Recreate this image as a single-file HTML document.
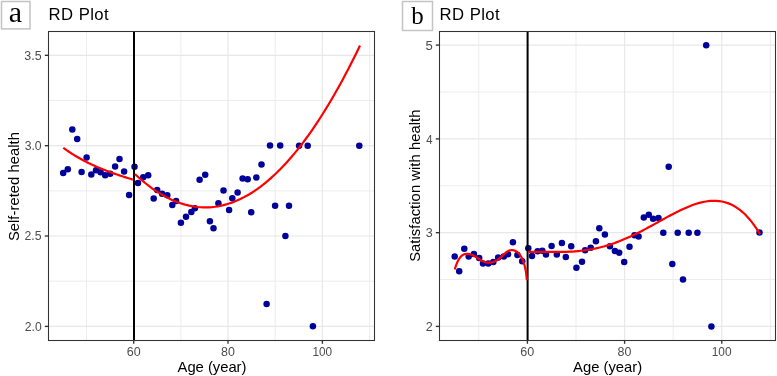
<!DOCTYPE html>
<html><head><meta charset="utf-8"><title>RD Plot</title>
<style>html,body{margin:0;padding:0;background:#fff;width:777px;height:376px;overflow:hidden}
svg{display:block;will-change:transform;font-family:"Liberation Sans",sans-serif}</style></head>
<body><svg width="777" height="376" viewBox="0 0 777 376"><rect width="777" height="376" fill="#fff"/><line x1="48.5" x2="374.5" y1="100.5" y2="100.5" stroke="#ebebeb" stroke-width="0.9"/><line x1="48.5" x2="374.5" y1="190.9" y2="190.9" stroke="#ebebeb" stroke-width="0.9"/><line x1="48.5" x2="374.5" y1="281.2" y2="281.2" stroke="#ebebeb" stroke-width="0.9"/><line y1="31.5" y2="340.5" x1="86.5" x2="86.5" stroke="#ebebeb" stroke-width="0.9"/><line y1="31.5" y2="340.5" x1="180.9" x2="180.9" stroke="#ebebeb" stroke-width="0.9"/><line y1="31.5" y2="340.5" x1="275.2" x2="275.2" stroke="#ebebeb" stroke-width="0.9"/><line y1="31.5" y2="340.5" x1="369.6" x2="369.6" stroke="#ebebeb" stroke-width="0.9"/><line x1="48.5" x2="374.5" y1="55.3" y2="55.3" stroke="#e8e8e8" stroke-width="1.2"/><line x1="48.5" x2="374.5" y1="145.7" y2="145.7" stroke="#e8e8e8" stroke-width="1.2"/><line x1="48.5" x2="374.5" y1="236.0" y2="236.0" stroke="#e8e8e8" stroke-width="1.2"/><line x1="48.5" x2="374.5" y1="326.4" y2="326.4" stroke="#e8e8e8" stroke-width="1.2"/><line y1="31.5" y2="340.5" x1="133.7" x2="133.7" stroke="#e8e8e8" stroke-width="1.2"/><line y1="31.5" y2="340.5" x1="228.0" x2="228.0" stroke="#e8e8e8" stroke-width="1.2"/><line y1="31.5" y2="340.5" x1="322.4" x2="322.4" stroke="#e8e8e8" stroke-width="1.2"/><g fill="#00009a"><circle cx="63.2" cy="173.1" r="3.25"/><circle cx="67.8" cy="169.2" r="3.25"/><circle cx="72.3" cy="129.4" r="3.25"/><circle cx="77.2" cy="138.9" r="3.25"/><circle cx="81.6" cy="172.1" r="3.25"/><circle cx="86.6" cy="157.6" r="3.25"/><circle cx="91.3" cy="174.6" r="3.25"/><circle cx="96.0" cy="170.3" r="3.25"/><circle cx="100.6" cy="172.2" r="3.25"/><circle cx="105.2" cy="175.2" r="3.25"/><circle cx="110.2" cy="173.7" r="3.25"/><circle cx="115.1" cy="166.6" r="3.25"/><circle cx="119.5" cy="159.0" r="3.25"/><circle cx="124.1" cy="171.6" r="3.25"/><circle cx="129.1" cy="195.0" r="3.25"/><circle cx="134.5" cy="166.8" r="3.25"/><circle cx="138.0" cy="183.0" r="3.25"/><circle cx="143.2" cy="177.3" r="3.25"/><circle cx="148.2" cy="175.3" r="3.25"/><circle cx="153.7" cy="198.5" r="3.25"/><circle cx="157.2" cy="190.1" r="3.25"/><circle cx="162.1" cy="193.7" r="3.25"/><circle cx="167.3" cy="195.3" r="3.25"/><circle cx="172.3" cy="205.0" r="3.25"/><circle cx="176.1" cy="201.0" r="3.25"/><circle cx="180.9" cy="222.8" r="3.25"/><circle cx="186.0" cy="216.7" r="3.25"/><circle cx="191.3" cy="212.0" r="3.25"/><circle cx="194.9" cy="208.2" r="3.25"/><circle cx="199.6" cy="179.8" r="3.25"/><circle cx="205.2" cy="174.8" r="3.25"/><circle cx="209.9" cy="221.3" r="3.25"/><circle cx="213.5" cy="228.3" r="3.25"/><circle cx="218.4" cy="203.2" r="3.25"/><circle cx="223.5" cy="190.6" r="3.25"/><circle cx="229.1" cy="209.9" r="3.25"/><circle cx="232.3" cy="198.3" r="3.25"/><circle cx="237.6" cy="192.4" r="3.25"/><circle cx="242.6" cy="178.6" r="3.25"/><circle cx="247.7" cy="179.2" r="3.25"/><circle cx="251.2" cy="212.2" r="3.25"/><circle cx="256.3" cy="177.4" r="3.25"/><circle cx="261.5" cy="164.5" r="3.25"/><circle cx="266.6" cy="303.9" r="3.25"/><circle cx="270.0" cy="145.6" r="3.25"/><circle cx="275.1" cy="205.8" r="3.25"/><circle cx="280.2" cy="145.6" r="3.25"/><circle cx="285.4" cy="236.0" r="3.25"/><circle cx="289.0" cy="205.7" r="3.25"/><circle cx="299.1" cy="145.7" r="3.25"/><circle cx="307.7" cy="145.7" r="3.25"/><circle cx="312.9" cy="326.3" r="3.25"/><circle cx="359.3" cy="145.7" r="3.25"/></g><line x1="134.0" x2="134.0" y1="31.5" y2="340.5" stroke="#000" stroke-width="2"/><path d="M63.30,147.82 L64.18,148.46 L65.06,149.08 L65.94,149.70 L66.82,150.32 L67.70,150.92 L68.58,151.51 L69.46,152.10 L70.34,152.68 L71.22,153.25 L72.10,153.81 L72.98,154.37 L73.86,154.91 L74.74,155.45 L75.62,155.99 L76.50,156.51 L77.38,157.03 L78.26,157.54 L79.14,158.04 L80.02,158.54 L80.89,159.03 L81.77,159.51 L82.65,159.98 L83.53,160.45 L84.41,160.92 L85.29,161.37 L86.17,161.82 L87.05,162.27 L87.93,162.71 L88.81,163.14 L89.69,163.57 L90.57,163.99 L91.45,164.40 L92.33,164.81 L93.21,165.22 L94.09,165.62 L94.97,166.01 L95.85,166.40 L96.73,166.78 L97.61,167.16 L98.49,167.54 L99.37,167.91 L100.25,168.27 L101.13,168.63 L102.01,168.99 L102.89,169.34 L103.77,169.69 L104.65,170.04 L105.53,170.38 L106.41,170.72 L107.29,171.05 L108.17,171.38 L109.05,171.71 L109.93,172.03 L110.81,172.35 L111.69,172.67 L112.57,172.98 L113.45,173.29 L114.33,173.60 L115.21,173.90 L116.08,174.21 L116.96,174.51 L117.84,174.80 L118.72,175.10 L119.60,175.39 L120.48,175.69 L121.36,175.97 L122.24,176.26 L123.12,176.55 L124.00,176.83 L124.88,177.12 L125.76,177.40 L126.64,177.68 L127.52,177.96 L128.40,178.23 L129.28,178.51 L130.16,178.79 L131.04,179.06 L131.92,179.34 L132.80,179.61" fill="none" stroke="#ff0000" stroke-width="2.2"/><path d="M135.00,174.09 L137.85,176.73 L140.70,179.26 L143.54,181.68 L146.39,183.99 L149.24,186.20 L152.09,188.29 L154.94,190.28 L157.78,192.16 L160.63,193.93 L163.48,195.59 L166.33,197.14 L169.18,198.58 L172.03,199.92 L174.87,201.14 L177.72,202.26 L180.57,203.26 L183.42,204.16 L186.27,204.94 L189.11,205.62 L191.96,206.19 L194.81,206.65 L197.66,206.99 L200.51,207.23 L203.35,207.36 L206.20,207.38 L209.05,207.29 L211.90,207.09 L214.75,206.77 L217.59,206.35 L220.44,205.82 L223.29,205.18 L226.14,204.43 L228.99,203.56 L231.84,202.59 L234.68,201.51 L237.53,200.32 L240.38,199.02 L243.23,197.60 L246.08,196.08 L248.92,194.45 L251.77,192.71 L254.62,190.85 L257.47,188.89 L260.32,186.82 L263.16,184.64 L266.01,182.34 L268.86,179.94 L271.71,177.43 L274.56,174.81 L277.41,172.08 L280.25,169.24 L283.10,166.29 L285.95,163.23 L288.80,160.06 L291.65,156.78 L294.49,153.39 L297.34,149.90 L300.19,146.29 L303.04,142.58 L305.89,138.75 L308.73,134.82 L311.58,130.78 L314.43,126.63 L317.28,122.37 L320.13,118.00 L322.97,113.53 L325.82,108.95 L328.67,104.26 L331.52,99.46 L334.37,94.55 L337.22,89.54 L340.06,84.42 L342.91,79.19 L345.76,73.85 L348.61,68.41 L351.46,62.86 L354.30,57.20 L357.15,51.44 L360.00,45.57" fill="none" stroke="#ff0000" stroke-width="2.2"/><rect x="48.5" y="31.5" width="326.0" height="309.0" fill="none" stroke="#333" stroke-width="1.07"/><line x1="44.8" x2="48.5" y1="55.3" y2="55.3" stroke="#333" stroke-width="1.35"/><line x1="44.8" x2="48.5" y1="145.7" y2="145.7" stroke="#333" stroke-width="1.35"/><line x1="44.8" x2="48.5" y1="236.0" y2="236.0" stroke="#333" stroke-width="1.35"/><line x1="44.8" x2="48.5" y1="326.4" y2="326.4" stroke="#333" stroke-width="1.35"/><line x1="133.7" x2="133.7" y1="340.5" y2="343.8" stroke="#333" stroke-width="1.35"/><line x1="228.0" x2="228.0" y1="340.5" y2="343.8" stroke="#333" stroke-width="1.35"/><line x1="322.4" x2="322.4" y1="340.5" y2="343.8" stroke="#333" stroke-width="1.35"/><rect x="1.5" y="1.5" width="28.5" height="27.4" fill="#fff" stroke="#c4c4c4" stroke-width="1.5"/><line x1="439.5" x2="775.5" y1="92.0" y2="92.0" stroke="#ebebeb" stroke-width="0.9"/><line x1="439.5" x2="775.5" y1="185.8" y2="185.8" stroke="#ebebeb" stroke-width="0.9"/><line x1="439.5" x2="775.5" y1="279.5" y2="279.5" stroke="#ebebeb" stroke-width="0.9"/><line y1="31.5" y2="340.5" x1="478.8" x2="478.8" stroke="#ebebeb" stroke-width="0.9"/><line y1="31.5" y2="340.5" x1="576.0" x2="576.0" stroke="#ebebeb" stroke-width="0.9"/><line y1="31.5" y2="340.5" x1="673.2" x2="673.2" stroke="#ebebeb" stroke-width="0.9"/><line y1="31.5" y2="340.5" x1="770.4" x2="770.4" stroke="#ebebeb" stroke-width="0.9"/><line x1="439.5" x2="775.5" y1="45.1" y2="45.1" stroke="#e8e8e8" stroke-width="1.2"/><line x1="439.5" x2="775.5" y1="138.9" y2="138.9" stroke="#e8e8e8" stroke-width="1.2"/><line x1="439.5" x2="775.5" y1="232.7" y2="232.7" stroke="#e8e8e8" stroke-width="1.2"/><line x1="439.5" x2="775.5" y1="326.4" y2="326.4" stroke="#e8e8e8" stroke-width="1.2"/><line y1="31.5" y2="340.5" x1="527.4" x2="527.4" stroke="#e8e8e8" stroke-width="1.2"/><line y1="31.5" y2="340.5" x1="624.6" x2="624.6" stroke="#e8e8e8" stroke-width="1.2"/><line y1="31.5" y2="340.5" x1="721.8" x2="721.8" stroke="#e8e8e8" stroke-width="1.2"/><g fill="#00009a"><circle cx="454.7" cy="256.5" r="3.25"/><circle cx="459.2" cy="271.3" r="3.25"/><circle cx="464.3" cy="248.7" r="3.25"/><circle cx="468.7" cy="256.5" r="3.25"/><circle cx="473.9" cy="254.0" r="3.25"/><circle cx="479.2" cy="258.0" r="3.25"/><circle cx="483.0" cy="263.5" r="3.25"/><circle cx="488.3" cy="263.5" r="3.25"/><circle cx="493.3" cy="262.1" r="3.25"/><circle cx="498.2" cy="257.4" r="3.25"/><circle cx="503.8" cy="256.4" r="3.25"/><circle cx="508.0" cy="254.3" r="3.25"/><circle cx="512.9" cy="242.2" r="3.25"/><circle cx="517.4" cy="255.0" r="3.25"/><circle cx="522.2" cy="261.3" r="3.25"/><circle cx="528.3" cy="248.3" r="3.25"/><circle cx="532.0" cy="256.0" r="3.25"/><circle cx="537.6" cy="251.3" r="3.25"/><circle cx="542.3" cy="250.7" r="3.25"/><circle cx="546.0" cy="254.5" r="3.25"/><circle cx="551.6" cy="246.1" r="3.25"/><circle cx="556.8" cy="254.6" r="3.25"/><circle cx="561.9" cy="242.9" r="3.25"/><circle cx="565.8" cy="256.9" r="3.25"/><circle cx="571.2" cy="246.3" r="3.25"/><circle cx="576.4" cy="267.7" r="3.25"/><circle cx="582.0" cy="261.7" r="3.25"/><circle cx="585.1" cy="250.2" r="3.25"/><circle cx="590.7" cy="247.8" r="3.25"/><circle cx="595.9" cy="241.3" r="3.25"/><circle cx="599.3" cy="228.2" r="3.25"/><circle cx="604.9" cy="234.6" r="3.25"/><circle cx="609.9" cy="246.3" r="3.25"/><circle cx="614.9" cy="250.9" r="3.25"/><circle cx="619.2" cy="252.8" r="3.25"/><circle cx="624.2" cy="262.1" r="3.25"/><circle cx="629.5" cy="246.7" r="3.25"/><circle cx="634.5" cy="235.3" r="3.25"/><circle cx="638.6" cy="236.5" r="3.25"/><circle cx="643.8" cy="217.5" r="3.25"/><circle cx="648.8" cy="214.7" r="3.25"/><circle cx="653.1" cy="218.8" r="3.25"/><circle cx="658.5" cy="217.9" r="3.25"/><circle cx="663.3" cy="232.8" r="3.25"/><circle cx="668.7" cy="166.8" r="3.25"/><circle cx="672.3" cy="263.9" r="3.25"/><circle cx="677.7" cy="232.8" r="3.25"/><circle cx="683.0" cy="279.6" r="3.25"/><circle cx="688.7" cy="232.7" r="3.25"/><circle cx="697.4" cy="232.7" r="3.25"/><circle cx="706.2" cy="45.2" r="3.25"/><circle cx="711.4" cy="326.4" r="3.25"/><circle cx="759.5" cy="232.6" r="3.25"/></g><line x1="527.6" x2="527.6" y1="31.5" y2="340.5" stroke="#000" stroke-width="2"/><path d="M454.82,269.44 L454.97,268.87 L455.14,268.27 L455.33,267.66 L455.52,267.02 L455.74,266.37 L455.96,265.70 L456.20,265.03 L456.46,264.34 L456.72,263.66 L457.01,262.97 L457.31,262.29 L457.62,261.61 L457.95,260.94 L458.30,260.28 L458.66,259.64 L459.04,259.01 L459.44,258.41 L459.85,257.83 L460.28,257.28 L460.73,256.76 L461.19,256.28 L461.67,255.83 L462.17,255.42 L462.69,255.06 L463.22,254.74 L463.78,254.47 L464.35,254.25 L464.94,254.09 L465.54,253.97 L466.16,253.90 L466.79,253.87 L467.43,253.89 L468.08,253.94 L468.73,254.04 L469.39,254.17 L470.05,254.33 L470.71,254.52 L471.37,254.75 L472.03,255.00 L472.68,255.28 L473.33,255.58 L473.96,255.90 L474.59,256.25 L475.22,256.60 L475.83,256.97 L476.44,257.35 L477.05,257.74 L477.65,258.13 L478.25,258.52 L478.85,258.91 L479.45,259.29 L480.04,259.67 L480.64,260.04 L481.24,260.39 L481.85,260.72 L482.45,261.04 L483.07,261.33 L483.68,261.60 L484.31,261.84 L484.94,262.05 L485.58,262.23 L486.23,262.37 L486.88,262.48 L487.54,262.56 L488.20,262.61 L488.86,262.63 L489.53,262.62 L490.19,262.58 L490.85,262.50 L491.52,262.40 L492.18,262.26 L492.83,262.09 L493.48,261.90 L494.13,261.67 L494.77,261.41 L495.40,261.12 L496.03,260.81 L496.64,260.46 L497.25,260.08 L497.84,259.68 L498.42,259.25 L499.00,258.80 L499.57,258.33 L500.13,257.84 L500.68,257.35 L501.23,256.85 L501.77,256.34 L502.31,255.83 L502.85,255.32 L503.38,254.82 L503.92,254.33 L504.45,253.85 L504.98,253.38 L505.51,252.93 L506.04,252.51 L506.58,252.10 L507.12,251.73 L507.66,251.39 L508.21,251.08 L508.76,250.81 L509.32,250.59 L509.89,250.40 L510.46,250.27 L511.04,250.18 L511.62,250.14 L512.21,250.14 L512.79,250.19 L513.38,250.28 L513.96,250.41 L514.53,250.58 L515.10,250.79 L515.66,251.05 L516.20,251.34 L516.74,251.67 L517.26,252.04 L517.76,252.44 L518.25,252.88 L518.71,253.35 L519.16,253.85 L519.59,254.38 L520.01,254.94 L520.40,255.52 L520.78,256.12 L521.14,256.74 L521.49,257.38 L521.82,258.03 L522.14,258.70 L522.44,259.37 L522.73,260.06 L523.01,260.74 L523.27,261.43 L523.52,262.12 L523.75,262.81 L523.97,263.50 L524.18,264.17 L524.38,264.84 L524.57,265.51 L524.75,266.17 L524.91,266.83 L525.07,267.48 L525.22,268.13 L525.36,268.78 L525.49,269.43 L525.61,270.07 L525.73,270.72 L525.84,271.37 L525.94,272.02 L526.04,272.67 L526.13,273.32 L526.22,273.98 L526.30,274.64 L526.38,275.31 L526.46,275.99 L526.53,276.67 L526.60,277.36 L526.67,278.05 L526.74,278.76 L526.80,279.47 L526.87,280.20" fill="none" stroke="#ff0000" stroke-width="2.2"/><path d="M528.30,251.95 L531.23,251.86 L534.17,251.80 L537.10,251.78 L540.04,251.79 L542.97,251.81 L545.91,251.85 L548.84,251.88 L551.77,251.92 L554.71,251.94 L557.64,251.94 L560.58,251.93 L563.51,251.88 L566.44,251.81 L569.38,251.69 L572.31,251.54 L575.25,251.34 L578.18,251.09 L581.12,250.78 L584.05,250.43 L586.98,250.01 L589.92,249.53 L592.85,249.00 L595.79,248.40 L598.72,247.73 L601.65,247.00 L604.59,246.20 L607.52,245.34 L610.46,244.42 L613.39,243.43 L616.33,242.38 L619.26,241.26 L622.19,240.09 L625.13,238.86 L628.06,237.57 L631.00,236.23 L633.93,234.84 L636.86,233.41 L639.80,231.93 L642.73,230.42 L645.67,228.88 L648.60,227.31 L651.54,225.72 L654.47,224.11 L657.40,222.49 L660.34,220.87 L663.27,219.25 L666.21,217.65 L669.14,216.06 L672.07,214.50 L675.01,212.97 L677.94,211.49 L680.88,210.06 L683.81,208.69 L686.75,207.40 L689.68,206.18 L692.61,205.06 L695.55,204.04 L698.48,203.14 L701.42,202.36 L704.35,201.72 L707.28,201.23 L710.22,200.91 L713.15,200.76 L716.09,200.80 L719.02,201.04 L721.96,201.50 L724.89,202.19 L727.82,203.13 L730.76,204.33 L733.69,205.81 L736.63,207.58 L739.56,209.66 L742.49,212.06 L745.43,214.81 L748.36,217.92 L751.30,221.41 L754.23,225.29 L757.17,229.59 L760.10,234.32" fill="none" stroke="#ff0000" stroke-width="2.2"/><rect x="439.5" y="31.5" width="336.0" height="309.0" fill="none" stroke="#333" stroke-width="1.07"/><line x1="435.8" x2="439.5" y1="45.1" y2="45.1" stroke="#333" stroke-width="1.35"/><line x1="435.8" x2="439.5" y1="138.9" y2="138.9" stroke="#333" stroke-width="1.35"/><line x1="435.8" x2="439.5" y1="232.7" y2="232.7" stroke="#333" stroke-width="1.35"/><line x1="435.8" x2="439.5" y1="326.4" y2="326.4" stroke="#333" stroke-width="1.35"/><line x1="527.4" x2="527.4" y1="340.5" y2="343.8" stroke="#333" stroke-width="1.35"/><line x1="624.6" x2="624.6" y1="340.5" y2="343.8" stroke="#333" stroke-width="1.35"/><line x1="721.8" x2="721.8" y1="340.5" y2="343.8" stroke="#333" stroke-width="1.35"/><rect x="402.5" y="1.5" width="30" height="29" fill="#fff" stroke="#c4c4c4" stroke-width="1.5"/><text x="48.60" y="19.90" text-anchor="start" font-size="16.7" fill="#000" style='font-family:"Liberation Sans", sans-serif' textLength="60.10" lengthAdjust="spacing">RD Plot</text><text x="439.60" y="19.90" text-anchor="start" font-size="16.7" fill="#000" style='font-family:"Liberation Sans", sans-serif' textLength="60.10" lengthAdjust="spacing">RD Plot</text><text x="15.40" y="22.00" text-anchor="middle" font-size="30" fill="#000" style='font-family:"Liberation Serif", serif'>a</text><text x="417.60" y="24.40" text-anchor="middle" font-size="25" fill="#000" style='font-family:"Liberation Serif", serif'>b</text><text x="212.00" y="372.00" text-anchor="middle" font-size="14.8" fill="#000" style='font-family:"Liberation Sans", sans-serif' textLength="68.89" lengthAdjust="spacing">Age (year)</text><text x="607.65" y="372.00" text-anchor="middle" font-size="14.8" fill="#000" style='font-family:"Liberation Sans", sans-serif' textLength="69.09" lengthAdjust="spacing">Age (year)</text><text transform="translate(18.60,186.60) rotate(-90)" text-anchor="middle" font-size="14.8" fill="#000" style='font-family:"Liberation Sans", sans-serif' textLength="108.98" lengthAdjust="spacing">Self-reted health</text><text transform="translate(419.70,185.70) rotate(-90)" text-anchor="middle" font-size="14.8" fill="#000" style='font-family:"Liberation Sans", sans-serif' textLength="152.34" lengthAdjust="spacing">Satisfaction with health</text><text x="41.63" y="59.90" text-anchor="end" font-size="12.3" fill="#4d4d4d" style='font-family:"Liberation Sans", sans-serif' textLength="17.29" lengthAdjust="spacingAndGlyphs">3.5</text><text x="41.66" y="150.20" text-anchor="end" font-size="12.3" fill="#4d4d4d" style='font-family:"Liberation Sans", sans-serif' textLength="17.00" lengthAdjust="spacingAndGlyphs">3.0</text><text x="41.59" y="240.40" text-anchor="end" font-size="12.3" fill="#4d4d4d" style='font-family:"Liberation Sans", sans-serif' textLength="17.05" lengthAdjust="spacingAndGlyphs">2.5</text><text x="41.72" y="330.70" text-anchor="end" font-size="12.3" fill="#4d4d4d" style='font-family:"Liberation Sans", sans-serif' textLength="16.88" lengthAdjust="spacingAndGlyphs">2.0</text><text x="432.68" y="49.80" text-anchor="end" font-size="12.3" fill="#4d4d4d" style='font-family:"Liberation Sans", sans-serif' textLength="7.27" lengthAdjust="spacingAndGlyphs">5</text><text x="432.51" y="143.50" text-anchor="end" font-size="12.3" fill="#4d4d4d" style='font-family:"Liberation Sans", sans-serif' textLength="6.27" lengthAdjust="spacingAndGlyphs">4</text><text x="432.81" y="237.20" text-anchor="end" font-size="12.3" fill="#4d4d4d" style='font-family:"Liberation Sans", sans-serif' textLength="6.99" lengthAdjust="spacingAndGlyphs">3</text><text x="432.87" y="330.70" text-anchor="end" font-size="12.3" fill="#4d4d4d" style='font-family:"Liberation Sans", sans-serif' textLength="7.01" lengthAdjust="spacingAndGlyphs">2</text><text x="133.80" y="355.50" text-anchor="middle" font-size="12.3" fill="#4d4d4d" style='font-family:"Liberation Sans", sans-serif' textLength="13.89" lengthAdjust="spacingAndGlyphs">60</text><text x="227.97" y="355.50" text-anchor="middle" font-size="12.3" fill="#4d4d4d" style='font-family:"Liberation Sans", sans-serif' textLength="13.84" lengthAdjust="spacingAndGlyphs">80</text><text x="322.24" y="355.50" text-anchor="middle" font-size="12.3" fill="#4d4d4d" style='font-family:"Liberation Sans", sans-serif' textLength="19.60" lengthAdjust="spacingAndGlyphs">100</text><text x="527.31" y="355.50" text-anchor="middle" font-size="12.3" fill="#4d4d4d" style='font-family:"Liberation Sans", sans-serif' textLength="13.95" lengthAdjust="spacingAndGlyphs">60</text><text x="624.43" y="355.50" text-anchor="middle" font-size="12.3" fill="#4d4d4d" style='font-family:"Liberation Sans", sans-serif' textLength="13.86" lengthAdjust="spacingAndGlyphs">80</text><text x="721.59" y="355.50" text-anchor="middle" font-size="12.3" fill="#4d4d4d" style='font-family:"Liberation Sans", sans-serif' textLength="19.87" lengthAdjust="spacingAndGlyphs">100</text></svg></body></html>
